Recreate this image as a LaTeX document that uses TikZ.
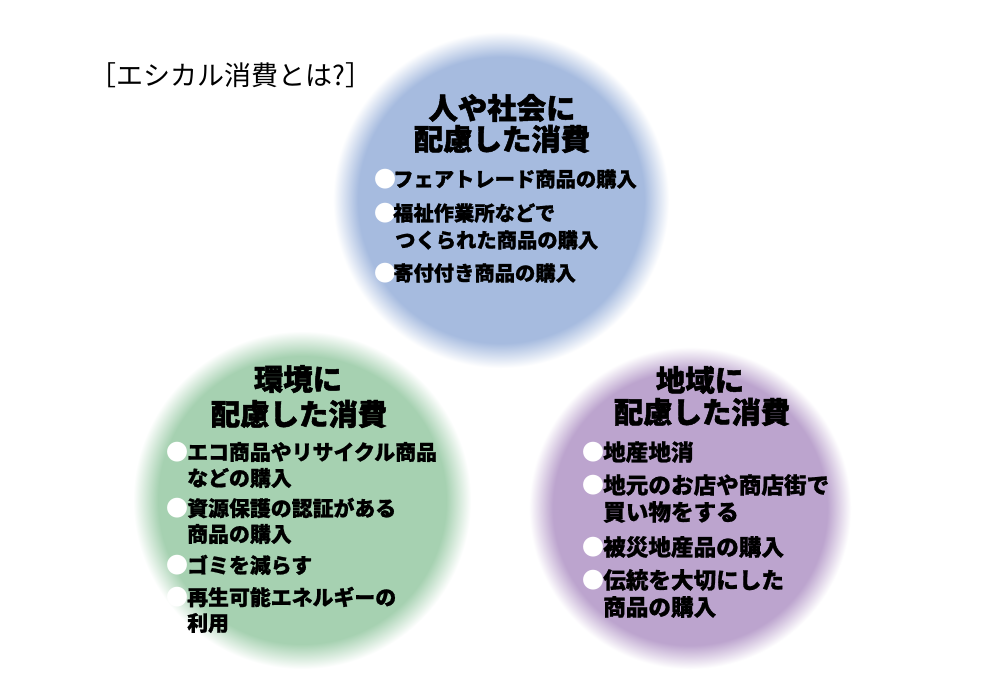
\documentclass[tikz,border=0pt]{standalone}
\usepackage{fontspec}
\newfontfamily\jp{Noto Sans CJK JP}
\IfFontExistsTF{Noto Sans CJK JP Black}
  {\newfontfamily\jpheavy{Noto Sans CJK JP Black}[FakeBold=1.0]
   \newfontfamily\jphead{Noto Sans CJK JP Black}[FakeBold=1.6]}
  {\newfontfamily\jpheavy{Noto Sans CJK JP}[FakeBold=2.5]
   \newfontfamily\jphead{Noto Sans CJK JP}[FakeBold=3.2]}
\definecolor{cblue}{RGB}{166,187,223}
\definecolor{cgreen}{RGB}{166,209,177}
\definecolor{cpurple}{RGB}{188,164,206}
\pgfdeclareradialshading{blueball}{\pgfpoint{0bp}{0bp}}{color(0bp)=(cblue); color(21.3bp)=(cblue); color(25bp)=(white); color(50bp)=(white)}
\pgfdeclareradialshading{greenball}{\pgfpoint{0bp}{0bp}}{color(0bp)=(cgreen); color(21.3bp)=(cgreen); color(25bp)=(white); color(50bp)=(white)}
\pgfdeclareradialshading{purpleball}{\pgfpoint{0bp}{0bp}}{color(0bp)=(cpurple); color(21.3bp)=(cpurple); color(25bp)=(white); color(50bp)=(white)}
\tikzset{
  head/.style={font=\jphead\fontsize{29.4}{29.4}\selectfont, inner sep=0pt, anchor=center, text=black},
  itemb/.style={font=\jpheavy\fontsize{20.3}{20.3}\selectfont, inner sep=0pt, anchor=west, text=black},
  itemg/.style={font=\jpheavy\fontsize{20.9}{20.9}\selectfont, inner sep=0pt, anchor=west, text=black},
  itemp/.style={font=\jpheavy\fontsize{22.6}{22.6}\selectfont, inner sep=0pt, anchor=west, text=black},
  dot/.style={font=\jp\fontsize{22}{22}\selectfont, inner sep=0pt, text=white, anchor=center},
  maintitle/.style={font=\jp\fontsize{27}{27}\selectfont, inner sep=0pt, anchor=west, text=black},
}
\begin{document}
\begin{tikzpicture}[x=1pt,y=-1pt]
\useasboundingbox[fill=white] (0,0) rectangle (1000,690);
% circles
\shade[shading=greenball] (302,500) circle (169pt);
\shade[shading=purpleball] (690,508) circle (161pt);
\shade[shading=blueball] (501,200) circle (168pt);
% title
\node[maintitle] (title) at (89,75) {［エシカル消費とは?］};
% blue
\node[head] (b1) at (502,108) {人や社会に};
\node[head] (b2) at (502,139) {配慮した消費};
\node[dot] (bd1) at (385,179) {●};
\node[itemb] (bt1) at (393,179) {フェアトレード商品の購入};
\node[dot] (bd2) at (385,213) {●};
\node[itemb] (bt2) at (393,213) {福祉作業所などで};
\node[itemb] (bt2b) at (395,240) {つくられた商品の購入};
\node[dot] (bd3) at (385,273) {●};
\node[itemb] (bt3) at (393,273) {寄付付き商品の購入};
% green
\node[head] (g1) at (298,379) {環境に};
\node[head] (g2) at (299,414) {配慮した消費};
\node[dot] (gd1) at (177,452) {●};
\node[itemg] (gt1) at (187,452) {エコ商品やリサイクル商品};
\node[itemg] (gt1b) at (187,478) {などの購入};
\node[dot] (gd2) at (177,508) {●};
\node[itemg] (gt2) at (187,508) {資源保護の認証がある};
\node[itemg] (gt2b) at (187,534) {商品の購入};
\node[dot] (gd3) at (177,565) {●};
\node[itemg] (gt3) at (187,565) {ゴミを減らす};
\node[dot] (gd4) at (177,597) {●};
\node[itemg] (gt4) at (187,597) {再生可能エネルギーの};
\node[itemg] (gt4b) at (187,623) {利用};
% purple
\node[head] (p1) at (700,380) {地域に};
\node[head] (p2) at (702,412) {配慮した消費};
\node[dot] (pd1) at (593,452) {●};
\node[itemp] (pt1) at (603,452) {地産地消};
\node[dot] (pd2) at (593,485) {●};
\node[itemp] (pt2) at (603,485) {地元のお店や商店街で};
\node[itemp] (pt2b) at (603,512) {買い物をする};
\node[dot] (pd3) at (593,547) {●};
\node[itemp] (pt3) at (603,547) {被災地産品の購入};
\node[dot] (pd4) at (593,580) {●};
\node[itemp] (pt4) at (603,580) {伝統を大切にした};
\node[itemp] (pt4b) at (603,607) {商品の購入};
\end{tikzpicture}
\end{document}
